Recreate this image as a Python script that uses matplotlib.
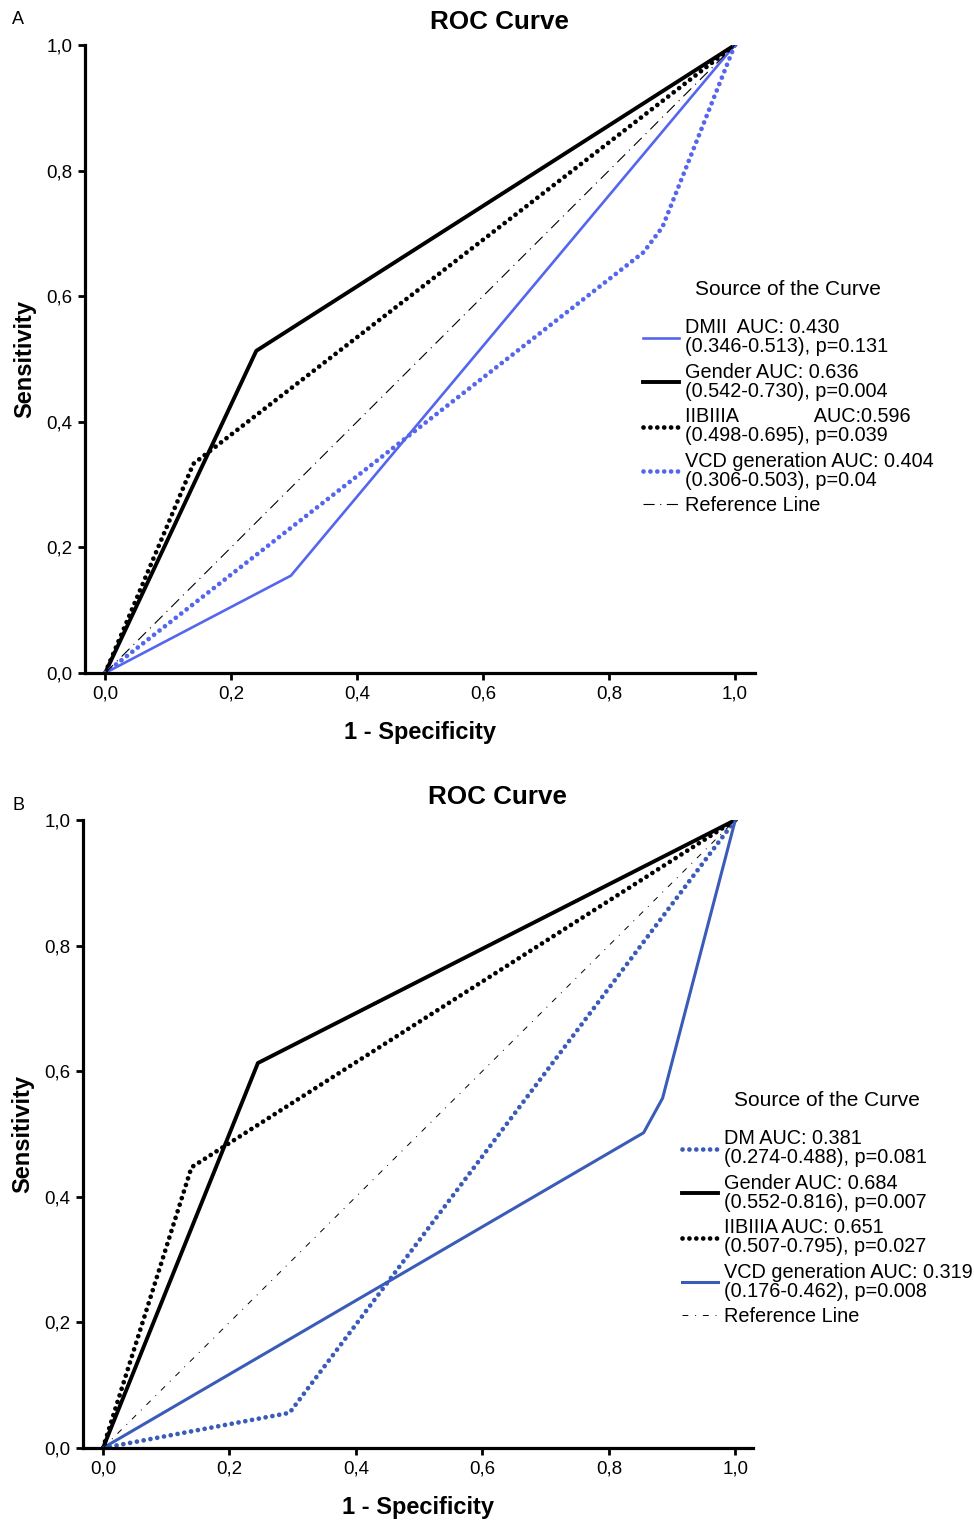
import matplotlib
matplotlib.use("Agg")
import matplotlib.pyplot as plt

plt.rcParams['font.family'] = ['Liberation Sans', 'DejaVu Sans']

# ---- panel A data ----
a_dmii_x = [0.0, 0.295, 1.0]
a_dmii_y = [0.0, 0.155, 1.0]
a_gender_x = [0.0, 0.24, 1.0]
a_gender_y = [0.0, 0.513, 1.0]
a_iib_x = [0.0, 0.14, 1.0]
a_iib_y = [0.0, 0.333, 1.0]
a_vcd_x = [0.0, 0.855, 0.885, 1.0]
a_vcd_y = [0.0, 0.67, 0.71, 1.0]
a_labels = ["DMII  AUC: 0.430\n(0.346-0.513), p=0.131",
            "Gender AUC: 0.636\n(0.542-0.730), p=0.004",
            "IIBIIIA              AUC:0.596\n(0.498-0.695), p=0.039",
            "VCD generation AUC: 0.404\n(0.306-0.503), p=0.04",
            "Reference Line"]

# ---- panel B data ----
b_dm_x = [0.0, 0.295, 1.0]
b_dm_y = [0.0, 0.056, 1.0]
b_gender_x = [0.0, 0.245, 1.0]
b_gender_y = [0.0, 0.613, 1.0]
b_iib_x = [0.0, 0.14, 1.0]
b_iib_y = [0.0, 0.447, 1.0]
b_vcd_x = [0.0, 0.855, 0.885, 1.0]
b_vcd_y = [0.0, 0.502, 0.557, 1.0]
b_labels = ["DM AUC: 0.381\n(0.274-0.488), p=0.081",
            "Gender AUC: 0.684\n(0.552-0.816), p=0.007",
            "IIBIIIA AUC: 0.651\n(0.507-0.795), p=0.027",
            "VCD generation AUC: 0.319\n(0.176-0.462), p=0.008",
            "Reference Line"]

ref_x = [0.0, 1.0]
ref_y = [0.0, 1.0]
ticks = [0.0, 0.2, 0.4, 0.6, 0.8, 1.0]
tick_labels = ["0,0", "0,2", "0,4", "0,6", "0,8", "1,0"]

blue_a = '#5566ee'
blue_b = '#3a5cb8'
dot = (0, (0.01, 1.45))

W, H = 974, 1521
fig = plt.figure(figsize=(W / 100, H / 100), dpi=100)


def setup(ax):
    ax.set_xlim(-0.032, 1.032)
    ax.set_ylim(0, 1.0)
    for s in ['top', 'right']:
        ax.spines[s].set_visible(False)
    for s in ['left', 'bottom']:
        ax.spines[s].set_linewidth(2.3)
    ax.set_xticks(ticks)
    ax.set_yticks(ticks)
    ax.set_xticklabels(tick_labels)
    ax.set_yticklabels(tick_labels)
    ax.tick_params(direction='out', length=5, width=2, labelsize=13.5, pad=4)
    ax.set_xlabel("1 - Specificity", fontsize=17, fontweight='bold', labelpad=13)
    ax.set_ylabel("Sensitivity", fontsize=17, fontweight='bold', labelpad=7)


def legend(handles, labels, x, y):
    leg = fig.legend(handles, labels, loc='upper left',
                     bbox_to_anchor=(x / W, 1 - y / H), frameon=False,
                     title="Source of the Curve", title_fontsize=15,
                     fontsize=14.3, handlelength=1.8, handletextpad=0.3,
                     labelspacing=0.32, borderpad=0, borderaxespad=0)
    for t in leg.get_texts():
        t.set_linespacing(1.0)
    leg._legend_box.sep = 14
    return leg


# ---------------- panel A ----------------
axA = fig.add_axes([85 / W, 1 - 673 / H, 670 / W, 628 / H])
setup(axA)
h1, = axA.plot(a_dmii_x, a_dmii_y, color=blue_a, lw=1.9)
h2, = axA.plot(a_gender_x, a_gender_y, color='black', lw=2.8)
h3, = axA.plot(a_iib_x, a_iib_y, color='black', lw=3.4, linestyle=dot,
               dash_capstyle='round')
h4, = axA.plot(a_vcd_x, a_vcd_y, color=blue_a, lw=3.4, linestyle=dot,
               dash_capstyle='round')
h5, = axA.plot(ref_x, ref_y, color='black', lw=0.8, linestyle=(0, (10, 5, 1, 5)))
legend([h1, h2, h3, h4, h5], a_labels, 643, 280)
fig.text(499 / W, 1 - 22 / H, "ROC Curve", fontsize=18.7, fontweight='bold',
         ha='center', va='center')
fig.text(12 / W, 1 - 20 / H, "A", fontsize=13, ha='left', va='center')

# ---------------- panel B ----------------
axB = fig.add_axes([83 / W, 1 - 1448 / H, 670 / W, 628 / H])
setup(axB)
axB.set_xlim(-0.0316, 1.028)
g1, = axB.plot(b_dm_x, b_dm_y, color=blue_b, lw=3.4, linestyle=dot,
               dash_capstyle='round')
g2, = axB.plot(b_gender_x, b_gender_y, color='black', lw=2.8)
g3, = axB.plot(b_iib_x, b_iib_y, color='black', lw=3.4, linestyle=dot,
               dash_capstyle='round')
g4, = axB.plot(b_vcd_x, b_vcd_y, color=blue_b, lw=2.2)
g5, = axB.plot(ref_x, ref_y, color='black', lw=0.7, linestyle=(0, (6, 7, 1, 7)))
legend([g1, g2, g3, g4, g5], b_labels, 682, 1091)
fig.text(497 / W, 1 - 797 / H, "ROC Curve", fontsize=18.7, fontweight='bold',
         ha='center', va='center')
fig.text(12 / W, 1 - 806 / H, "B", fontsize=13, ha='left', va='center')

fig.savefig("out.png", dpi=100)
